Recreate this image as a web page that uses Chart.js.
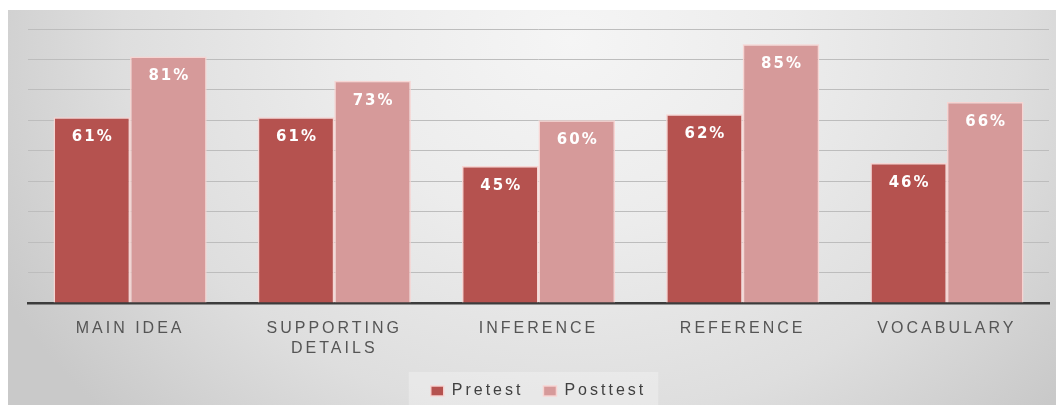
<!DOCTYPE html>
<html>
<head>
<meta charset="utf-8">
<script src="https://cdn.jsdelivr.net/npm/chart.js@4.4.1/dist/chart.umd.min.js"></script>
<style>
html,body{margin:0;padding:0;background:#ffffff;}
#wrap{width:1056px;height:405px;position:relative;}
</style>
</head>
<body>
<div id="wrap"><canvas id="c" width="1056" height="405"></canvas></div>
<script>
const categories = ['MAIN IDEA', ['SUPPORTING', 'DETAILS'], 'INFERENCE', 'REFERENCE', 'VOCABULARY'];
const pretest = [61, 61, 45, 62, 46];
const posttest = [81, 73, 60, 85, 66];
const seriesNames = ['Pretest', 'Posttest'];
const yMax = 90;
const yStep = 10;

const SPACING = '3px';

const spacingPlugin = {
  id: 'spacing',
  beforeLayout(chart) { chart.ctx.letterSpacing = SPACING; },
  beforeDraw(chart) { chart.ctx.letterSpacing = SPACING; }
};

const bgPlugin = {
  id: 'bg',
  beforeDraw(chart) {
    const ctx = chart.ctx;
    ctx.save();
    ctx.fillStyle = '#ffffff';
    ctx.fillRect(0, 0, chart.width, chart.height);
    ctx.save();
    ctx.beginPath();
    ctx.rect(8, 10, chart.width - 8, chart.height - 10);
    ctx.clip();
    ctx.translate(570, 40);
    ctx.scale(1.0, 0.85);
    const g = ctx.createRadialGradient(0, 0, 0, 0, 0, 640);
    g.addColorStop(0, '#f5f5f5');
    g.addColorStop(0.35, '#ececec');
    g.addColorStop(0.7, '#dedede');
    g.addColorStop(1, '#c9c9c9');
    ctx.fillStyle = g;
    ctx.fillRect(-700, -100, 1500, 700);
    ctx.restore();
    const lg = chart.legend;
    if (lg && lg.legendHitBoxes && lg.legendHitBoxes.length) {
      const hb = lg.legendHitBoxes;
      const x0 = Math.min(...hb.map(h => h.left)) - 22;
      const x1 = Math.max(...hb.map(h => h.left + h.width)) + 12;
      ctx.fillStyle = 'rgba(255,255,255,0.28)';
      ctx.fillRect(x0, 372, x1 - x0, chart.height - 372);
    }
    ctx.restore();
  }
};

const valuePlugin = {
  id: 'values',
  afterDatasetsDraw(chart) {
    const ctx = chart.ctx;
    ctx.save();
    ctx.letterSpacing = '2px';
    ctx.font = "bold 15px 'DejaVu Sans', Verdana, sans-serif";
    ctx.fillStyle = '#ffffff';
    ctx.textAlign = 'center';
    ctx.textBaseline = 'middle';
    chart.data.datasets.forEach((ds, di) => {
      const meta = chart.getDatasetMeta(di);
      meta.data.forEach((bar, i) => {
        ctx.fillText(ds.data[i] + '%', bar.x + 1, bar.y + 20);
      });
    });
    ctx.restore();
  }
};

new Chart(document.getElementById('c'), {
  type: 'bar',
  data: {
    labels: categories,
    datasets: [
      {
        label: seriesNames[0],
        data: pretest,
        backgroundColor: '#b5524f',
        borderColor: 'rgba(248,212,210,0.95)',
        borderWidth: 1.5,
        borderSkipped: 'bottom'
      },
      {
        label: seriesNames[1],
        data: posttest,
        backgroundColor: '#d69a9a',
        borderColor: 'rgba(248,212,210,0.95)',
        borderWidth: 1.5,
        borderSkipped: 'bottom'
      }
    ]
  },
  options: {
    responsive: false,
    animation: false,
    devicePixelRatio: 1,
    layout: { padding: { left: 28, right: 7, top: 29, bottom: -4 } },
    datasets: { bar: { categoryPercentage: 0.75, barPercentage: 1.0 } },
    scales: {
      x: {
        grid: { display: false, drawTicks: false },
        border: { display: true, color: '#3c3c3c', width: 2.5 },
        ticks: {
          color: '#555555',
          padding: 16,
          maxRotation: 0,
          autoSkip: false,
          font: { family: "'Liberation Sans', Arial, sans-serif", size: 16, lineHeight: 1.25 }
        },
        afterFit(s) { s.height = 60; }
      },
      y: {
        min: 0,
        max: yMax,
        ticks: { display: false, stepSize: yStep },
        border: { display: false },
        grid: { color: '#bdbdbd', lineWidth: 1, drawTicks: false },
        afterFit(s) { s.width = 0; }
      }
    },
    plugins: {
      tooltip: { enabled: false },
      title: { display: false },
      legend: {
        position: 'bottom',
        labels: {
          boxWidth: 13,
          boxHeight: 10,
          padding: 20,
          color: '#404040',
          font: { family: "'Liberation Sans', Arial, sans-serif", size: 16 }
        }
      }
    }
  },
  plugins: [spacingPlugin, bgPlugin, valuePlugin]
});
</script>
</body>
</html>
